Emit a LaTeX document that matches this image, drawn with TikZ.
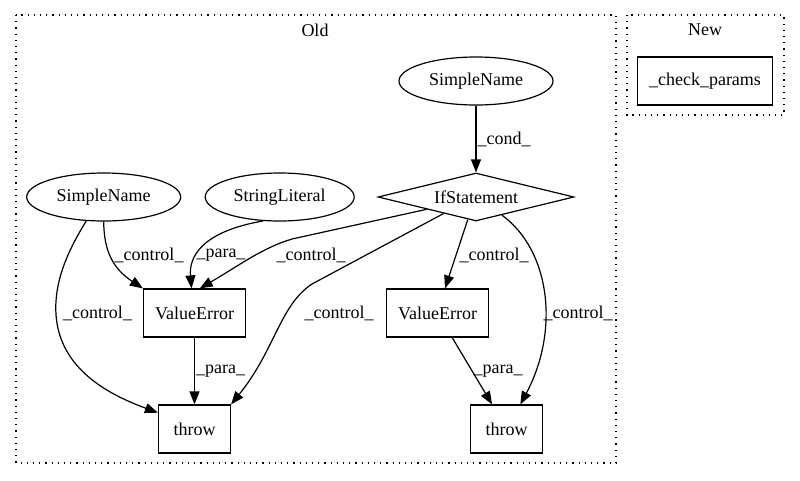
\documentclass[tikz,border=0pt]{standalone}
\usepackage{fontspec}
\setmainfont{Liberation Serif}
\usetikzlibrary{shapes.geometric}
\usetikzlibrary{arrows.meta}
\tikzset{
    % Filled graph style arrow heads
    >={Triangle[length=13pt, width=10pt]},
%
    % Dotted frame round a group of nodes
    cluster/.style={line width=1.2pt, dash pattern=on 1.2pt off 5pt},
%
    % Oval for names and literals
    leaf/.style={
        draw, ellipse, line width=1.2pt, inner sep=0,
        minimum width=#1, minimum height=48pt},
%
    % Plain box for calls and statements
    box/.style={
        draw, rectangle, line width=1.2pt, inner sep=0,
        minimum width=#1, minimum height=48pt},
%
    % Text sitting beside an edge
    elabel/.style={inner sep=1pt}}

\begin{document}
\begin{tikzpicture}[x=1pt, y=-1pt, line width=1.2pt,
    font=\fontsize{18}{21}\selectfont]
\useasboundingbox (0,0) rectangle (800,480);

% The two groups
\draw[cluster] (16,15) rectangle (616,463);
\node (old label) at (315,30) {Old};
\draw[cluster] (627,15) rectangle (784,115);
\node (new label) at (705,30) {New};

\node[box=135pt] (check params) at (705,81) {\_check\_params};

% Condition feeding the if statement
\path
    node[leaf=154pt] (cond name) at (476,81) {SimpleName}
    node[draw, diamond, aspect=4, line width=1.2pt, inner sep=0,
        minimum width=196pt, minimum height=48pt]
        (if stmt) at (476,197) {IfStatement};

\draw[->] (cond name) -- (if stmt)
    node[elabel, midway, right] {\_cond\_};

% Left hand operands
\path
    node[leaf=154pt] (left name) at (103.7,197) {SimpleName}
    node[leaf=149pt] (string lit) at (279.7,197) {StringLiteral};

% Errors and the throws that use them
\path
    node[box=102pt] (left error) at (194.5,313) {ValueError}
    node[box=102pt] (right error) at (437.5,313) {ValueError}
    node[box=72pt] (left throw) at (194.5,429) {throw}
    node[box=72pt] (right throw) at (506.7,429) {throw};

\draw[->] (left name.south) .. controls (104,250) and (112,268) ..
    (left error.north west)
    node[elabel] at (149,255) {\_control\_};
\draw[->] (string lit.235) .. controls (200,232) and (189,258) ..
    (left error.97)
    node[elabel] at (221,255) {\_para\_};
\draw[->] (if stmt.194) -- (292,239) .. controls (262,248) and (240,265) ..
    (left error.78)
    node[elabel] at (311,255) {\_control\_};

\draw[->] (left name.234) .. controls (65,255) and (54,285) .. (56,315)
    .. controls (60,370) and (110,395) .. (left throw.156)
    node[elabel] at (97.5,313) {\_control\_};
\draw[->] (if stmt.-153) -- (312,284) .. controls (280,305) and (275,350) ..
    (left throw.north east)
    node[elabel] at (339,313) {\_control\_};
\draw[->] (left error) -- (left throw)
    node[elabel, midway, right] {\_para\_};

\draw[->] (if stmt.250) -- (right error.73)
    node[elabel] at (494,255) {\_control\_};
\draw[->] (if stmt.-35) .. controls (550,250) and (560,330) ..
    (right throw.61)
    node[elabel] at (578,313) {\_control\_};
\draw[->] (right error) -- (right throw)
    node[elabel, midway, right] {\_para\_};

\end{tikzpicture}
\end{document}
